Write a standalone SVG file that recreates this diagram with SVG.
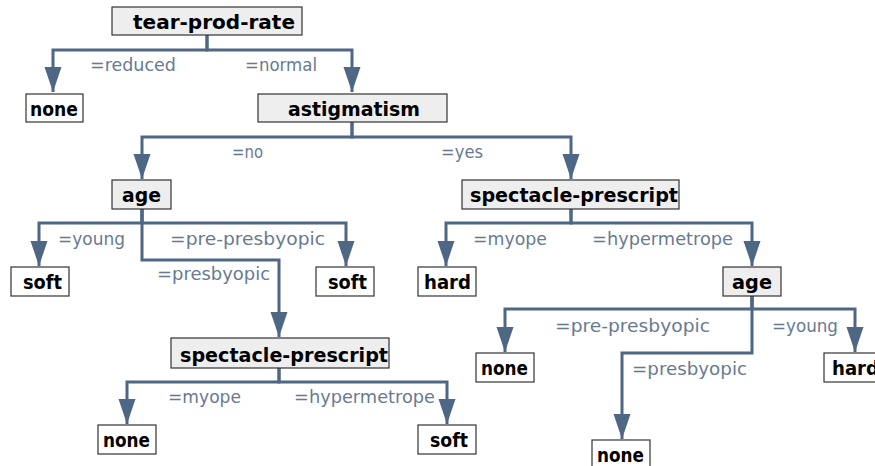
<svg xmlns="http://www.w3.org/2000/svg" width="875" height="466" viewBox="0 0 875 466">
<defs>
<marker id="arr" markerUnits="userSpaceOnUse" markerWidth="26" markerHeight="18" refX="25" refY="8.5" orient="auto">
<path d="M0,0 L25,8.5 L0,17 z" fill="#4e6784"/>
</marker>
<style>
.box{stroke:#333;stroke-width:1.2}
.in{fill:#eeeeee}
.lf{fill:#ffffff}
.nt{font-family:"DejaVu Sans",sans-serif;font-weight:bold;font-size:19px;fill:#000}
.lb{font-family:"DejaVu Sans",sans-serif;font-size:18px;fill:#687a91}
.c{fill:none;stroke:#4e6784;stroke-width:3;marker-end:url(#arr)}
</style>
</defs>
<rect width="875" height="466" fill="#fff"/>
<g id="connectors">
<path class="c" d="M207,35 V50 H53 V92"/>
<path class="c" d="M207,35 V50 H352 V92"/>
<path class="c" d="M352,122 V137 H142 V179"/>
<path class="c" d="M352,122 V137 H571 V179"/>
<path class="c" d="M142,209 V223 H39 V266"/>
<path class="c" d="M142,209 V223 H346 V266"/>
<path class="c" d="M142,209 V260 H279 V337"/>
<path class="c" d="M571,209 V223 H446 V266"/>
<path class="c" d="M571,209 V223 H752 V266"/>
<path class="c" d="M752,296 V309 H505 V352"/>
<path class="c" d="M752,296 V309 H855 V352"/>
<path class="c" d="M752,296 V353 H622 V439"/>
<path class="c" d="M279,368 V382 H127 V424"/>
<path class="c" d="M279,368 V382 H447 V424"/>
</g>
<g id="edge-labels">
<text class="lb" x="90" y="71" textLength="86" lengthAdjust="spacingAndGlyphs">=reduced</text>
<text class="lb" x="245" y="71" textLength="72" lengthAdjust="spacingAndGlyphs">=normal</text>
<text class="lb" x="232" y="158" textLength="31" lengthAdjust="spacingAndGlyphs">=no</text>
<text class="lb" x="441" y="158" textLength="42" lengthAdjust="spacingAndGlyphs">=yes</text>
<text class="lb" x="58" y="245" textLength="67" lengthAdjust="spacingAndGlyphs">=young</text>
<text class="lb" x="170" y="245" textLength="155" lengthAdjust="spacingAndGlyphs">=pre-presbyopic</text>
<text class="lb" x="157" y="280" textLength="113" lengthAdjust="spacingAndGlyphs">=presbyopic</text>
<text class="lb" x="473" y="245" textLength="74" lengthAdjust="spacingAndGlyphs">=myope</text>
<text class="lb" x="592" y="245" textLength="141" lengthAdjust="spacingAndGlyphs">=hypermetrope</text>
<text class="lb" x="555" y="332" textLength="155" lengthAdjust="spacingAndGlyphs">=pre-presbyopic</text>
<text class="lb" x="772" y="332" textLength="66" lengthAdjust="spacingAndGlyphs">=young</text>
<text class="lb" x="632" y="375" textLength="115" lengthAdjust="spacingAndGlyphs">=presbyopic</text>
<text class="lb" x="168" y="403" textLength="73" lengthAdjust="spacingAndGlyphs">=myope</text>
<text class="lb" x="294" y="403" textLength="141" lengthAdjust="spacingAndGlyphs">=hypermetrope</text>
</g>
<g id="n-tear-prod-rate"><rect class="box in" x="112" y="7" width="190" height="28"/><text class="nt" x="133" y="29" textLength="162" lengthAdjust="spacingAndGlyphs">tear-prod-rate</text></g>
<g id="n-none-1"><rect class="box lf" x="26" y="94" width="57" height="28"/><text class="nt" x="30" y="116" textLength="48" lengthAdjust="spacingAndGlyphs">none</text></g>
<g id="n-astigmatism"><rect class="box in" x="258" y="94" width="189" height="28"/><text class="nt" x="288" y="116" textLength="132" lengthAdjust="spacingAndGlyphs">astigmatism</text></g>
<g id="n-age-1"><rect class="box in" x="112" y="180" width="59" height="29"/><text class="nt" x="122" y="202" textLength="39" lengthAdjust="spacingAndGlyphs">age</text></g>
<g id="n-spectacle-1"><rect class="box in" x="462" y="180" width="217" height="29"/><text class="nt" x="470" y="202" textLength="208" lengthAdjust="spacingAndGlyphs">spectacle-prescript</text></g>
<g id="n-soft-1"><rect class="box lf" x="11" y="267" width="58" height="29"/><text class="nt" x="23" y="289" textLength="39" lengthAdjust="spacingAndGlyphs">soft</text></g>
<g id="n-soft-2"><rect class="box lf" x="316" y="267" width="58" height="29"/><text class="nt" x="328" y="289" textLength="39" lengthAdjust="spacingAndGlyphs">soft</text></g>
<g id="n-hard-1"><rect class="box lf" x="418" y="267" width="58" height="29"/><text class="nt" x="424" y="289" textLength="47" lengthAdjust="spacingAndGlyphs">hard</text></g>
<g id="n-age-2"><rect class="box in" x="723" y="267" width="58" height="29"/><text class="nt" x="732" y="289" textLength="40" lengthAdjust="spacingAndGlyphs">age</text></g>
<g id="n-spectacle-2"><rect class="box in" x="171" y="338" width="218" height="30"/><text class="nt" x="180" y="362" textLength="208" lengthAdjust="spacingAndGlyphs">spectacle-prescript</text></g>
<g id="n-none-2"><rect class="box lf" x="98" y="425" width="58" height="29"/><text class="nt" x="103" y="447" textLength="47" lengthAdjust="spacingAndGlyphs">none</text></g>
<g id="n-soft-3"><rect class="box lf" x="418" y="425" width="58" height="29"/><text class="nt" x="430" y="447" textLength="38" lengthAdjust="spacingAndGlyphs">soft</text></g>
<g id="n-none-3"><rect class="box lf" x="476" y="353" width="58" height="29"/><text class="nt" x="481" y="375" textLength="47" lengthAdjust="spacingAndGlyphs">none</text></g>
<g id="n-hard-2"><rect class="box lf" x="824" y="353" width="60" height="29"/><text class="nt" x="832" y="375" textLength="47" lengthAdjust="spacingAndGlyphs">hard</text></g>
<g id="n-none-4"><rect class="box lf" x="592" y="440" width="58" height="29"/><text class="nt" x="597" y="462" textLength="47" lengthAdjust="spacingAndGlyphs">none</text></g>
</svg>
